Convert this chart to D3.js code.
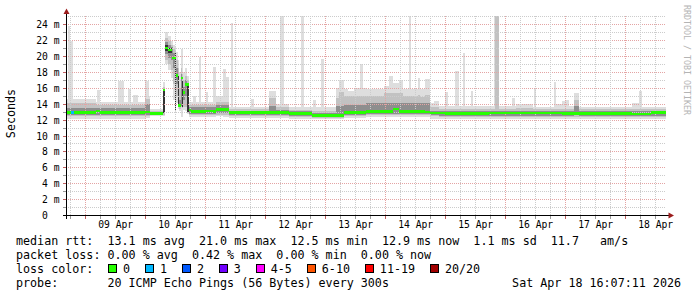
<!DOCTYPE html>
<html><head><meta charset="utf-8">
<script src="https://cdn.jsdelivr.net/npm/d3@7/dist/d3.min.js"></script>
<style>
html,body{margin:0;padding:0;background:#fff;}
svg{display:block;font-family:"DejaVu Sans Mono",monospace;}
</style></head><body>
<svg id="c" width="697" height="297"></svg>
<script>
// ---- DATA (hours since 08 Apr 2026 00:00, values in ms) ----
const yTicks = [0,2,4,6,8,10,12,14,16,18,20,22,24];
const dayLabels = ["09 Apr","10 Apr","11 Apr","12 Apr","13 Apr","14 Apr","15 Apr","16 Apr","17 Apr","18 Apr"];

// median runs [h0, h1, ms]
const medianRuns = [
 [16.1,28.1,12.95],[28.1,29.7,13.15],[29.7,47.7,12.92],[47.7,49.7,13.0],[49.7,55.1,12.85],
 [55.1,55.9,15.8],[55.9,57.1,21.05],[57.1,58.7,20.8],[58.7,60.1,19.8],[60.1,60.9,17.6],
 [60.9,62.1,13.85],[62.1,63.1,17.3],[63.1,63.9,15.5],[63.9,65.3,16.5],[65.3,66.1,13.25],
 [66.1,72.0,13.05],[72.0,74.9,13.15],[74.9,76.1,13.05],[76.1,81.3,13.3],[81.3,105.3,12.95],
 [105.3,114.5,12.8],[114.5,124.1,12.6],[124.1,127.4,12.55],[127.4,136.1,12.95],[136.1,147.0,13.12],
 [147.0,149.4,13.4],[149.4,159.8,13.12],[159.8,161.7,13.0],[161.7,167.7,12.9],[167.7,185.3,12.8],
 [185.3,214.5,12.9],[214.5,230.0,12.85],[230.0,242.5,12.8],[242.5,250.0,12.75],[250.0,256.2,12.92]
];
// runs with packet loss [h0, h1, loss class index]
const lossRuns = [[18.1,19.3,1]];

// smoke bands [h0, h1, low ms, high ms]
const smokeOuter = [
 [16.1,28.1,12.2,14.6],[28.1,37.0,12.2,14.3],[37.0,47.7,12.2,14.3],[47.7,49.7,12.3,15.0],[49.7,55.1,12.5,13.4],
 [55.1,55.9,12.5,16.8],[55.9,57.1,19.0,23.1],[57.1,58.3,18.3,22.6],[58.3,59.1,17.3,21.9],[59.1,59.7,14.5,21.5],
 [59.7,60.1,13.0,21.2],[60.1,60.9,14.2,20.6],[60.9,61.3,13.4,19.5],[61.3,62.1,13.2,18.0],[62.1,62.7,13.4,18.5],
 [62.7,63.1,13.3,18.5],[63.1,63.9,13.3,18.0],[63.9,64.7,13.2,18.5],[64.7,65.3,12.8,17.6],[65.3,76.1,12.4,14.3],
 [76.1,78.9,12.5,15.0],[78.9,81.3,12.4,14.5],[81.3,97.2,12.3,13.7],[97.2,100.1,12.3,15.7],[100.1,105.3,12.3,14.0],
 [105.3,114.5,12.2,13.7],[114.5,124.1,12.1,13.6],[124.1,125.4,12.1,16.1],[125.4,127.4,12.1,17.0],[127.4,128.9,12.3,15.9],
 [128.9,131.3,12.3,15.7],[131.3,133.7,12.3,16.0],[133.7,135.0,12.3,19.0],[135.0,136.1,12.3,16.0],[136.1,143.4,12.4,15.9],
 [143.4,145.4,12.4,16.3],[145.4,147.0,12.4,17.5],[147.0,149.4,12.4,16.7],[149.4,150.8,12.4,17.0],[150.8,156.8,12.4,15.9],
 [156.8,157.8,12.4,17.35],[157.8,159.8,12.4,15.9],[159.8,161.7,12.4,17.2],[161.7,163.4,12.2,14.1],[163.4,165.4,12.2,14.4],
 [165.4,196.1,12.2,13.8],[196.1,202.9,12.2,14.0],[202.9,212.1,12.2,13.7],[212.1,214.9,12.2,14.0],[214.9,215.7,12.2,13.7],
 [215.7,217.3,12.2,14.5],[217.3,219.3,12.2,13.8],[219.3,221.3,12.2,15.4],[221.3,242.5,12.2,13.7],[242.5,245.4,12.2,14.1],
 [245.4,256.2,12.2,13.7]
];
// single-ping spikes [h0, h1, top ms]
const spikes = [
 [16.9,17.7,23.8],[17.7,19.1,22.0],[28.5,29.7,15.75],[37.0,39.2,16.9],[40.8,42.1,15.9],[42.8,44.8,15.2],
 [47.7,49.3,16.9],[62.3,63.1,20.9],[66.9,68.3,15.0],[69.3,70.3,19.9],[72.1,72.9,15.5],[74.9,76.1,18.7],
 [78.9,80.1,18.4],[80.1,81.3,17.4],[82.1,83.0,24.2],[90.1,91.2,14.6],[101.8,103.4,25.4],[110.0,111.2,25.4],
 [114.9,116.1,14.5],[118.1,119.2,19.7],[153.2,154.0,25.4],[167.7,168.8,15.55],[171.8,173.2,18.2],[175.0,175.8,20.4],
 [178.1,179.0,15.7],[187.2,189.4,25.4],[194.7,195.7,14.8],[203.2,204.1,16.1],[211.2,212.1,16.8],[214.5,215.6,14.4],
 [245.4,246.5,15.7]
];
const smokeInner = [
 [16.1,28.1,12.5,14.1],[28.1,47.7,12.5,13.9],[47.7,49.7,12.5,14.6],[49.7,55.1,12.6,13.2],[55.1,55.9,12.7,16.2],
 [55.9,57.1,19.6,22.3],[57.1,58.3,19.0,21.9],[58.3,59.1,18.3,21.5],[59.1,59.7,16.5,21.0],[59.7,60.1,13.2,20.8],
 [60.1,60.9,15.0,19.5],[60.9,61.3,13.6,18.5],[61.3,62.1,13.4,16.0],[62.1,62.7,13.6,18.5],[62.7,63.1,13.5,17.8],
 [63.1,63.9,13.6,17.0],[63.9,64.7,13.6,17.5],[64.7,65.3,12.9,17.0],[65.3,76.1,12.6,13.9],[76.1,81.3,12.7,14.3],
 [81.3,97.2,12.5,13.4],[97.2,100.1,12.5,14.8],[100.1,105.3,12.5,13.6],[105.3,114.5,12.4,13.3],[114.5,124.1,12.3,13.2],
 [124.1,125.4,12.3,14.8],[125.4,127.4,12.3,15.5],[127.4,136.1,12.5,15.0],[136.1,143.4,12.6,15.0],[143.4,150.8,12.6,15.4],
 [150.8,156.8,12.6,15.0],[156.8,157.8,12.6,15.2],[157.8,159.8,12.6,14.9],[159.8,161.7,12.6,15.2],[161.7,165.4,12.5,13.7],
 [165.4,196.1,12.4,13.4],[187.8,189.2,13.4,25.4],[196.1,202.9,12.4,13.5],[202.9,219.3,12.4,13.4],[219.3,221.3,12.4,14.5],
 [221.3,256.2,12.4,13.4]
];
const smokeCore = [
 [16.1,47.7,12.65,13.5],[47.7,49.7,12.65,14.0],[49.7,55.1,12.7,13.05],[55.9,57.1,20.3,21.8],[57.1,58.3,19.8,21.4],
 [58.3,59.1,19.5,21.2],[59.1,59.7,18.5,20.5],[60.1,60.9,16.5,18.5],[61.3,62.1,13.6,14.5],[62.1,62.7,13.8,17.8],
 [63.1,63.9,14.5,16.2],[63.9,64.7,15.0,17.0],[65.3,76.1,12.8,13.6],[76.1,81.3,12.9,13.9],[81.3,97.2,12.7,13.2],
 [97.2,100.1,12.7,13.8],[100.1,105.3,12.7,13.3],[105.3,114.5,12.55,13.1],[114.5,124.1,12.4,12.9],[124.1,127.4,12.4,13.8],
 [127.4,136.1,12.7,13.9],[136.1,161.7,12.8,14.2],[161.7,165.4,12.6,13.2],[165.4,219.3,12.55,13.1],[219.3,221.3,12.6,13.8],
 [221.3,256.2,12.55,13.1]
];
const smokeDark = [
 [55.1,55.9,12.9,15.9],[55.9,57.1,20.7,21.4],[57.1,58.7,20.4,21.1],[59.7,60.1,13.3,20.5],
 [60.9,61.3,13.8,17.6],[62.7,63.1,13.6,17.1],[64.7,65.3,13.0,16.5]
];

const lossLabels = ["0","1","2","3","4-5","6-10","11-19","20/20"];
const lossColors = ["#26ff00","#00b8ff","#0059ff","#7000ff","#ff00ff","#ff5500","#ff0000","#a10000"];
const rttStats = ["13.1","21.0","12.5","12.9","1.1","11.7"];   // avg max min now sd am/s
const lossStats = ["0.00","0.42","0.00","0.00"];             // avg max min now
const probeText = "20 ICMP Echo Pings (56 Bytes) every 300s";
const stampText = "Sat Apr 18 16:07:11 2026";

// ---- DRAW ----
const svg = d3.select("#c");
const base = Date.UTC(2026,3,8,0,0,0);
const hd = h => new Date(base + h*3600e3);
const t0 = new Date(Date.UTC(2026,3,8,16,7,11)), t1 = new Date(Date.UTC(2026,3,18,16,7,11));
const x = d3.scaleUtc().domain([t0,t1]).range([66,666]);
const y = d3.scaleLinear().domain([0,25.16]).range([215.5,15.5]);
const yc = v => y(Math.min(v, 25.16));

const plot = svg.append("g");
plot.append("clipPath").attr("id","pc").append("rect").attr("x",66).attr("y",15.5).attr("width",600).attr("height",200);
const sg = plot.append("g").attr("clip-path","url(#pc)").attr("shape-rendering","crispEdges");

function band(data, color){
  sg.append("g").selectAll("rect").data(data).join("rect")
    .attr("x", d=>x(hd(d[0]))).attr("width", d=>x(hd(d[1]))-x(hd(d[0])))
    .attr("y", d=>yc(d[3])).attr("height", d=>yc(d[2])-yc(d[3])).attr("fill", color);
}
band(smokeOuter, "#dedede");
band(spikes.map(d=>[d[0],d[1],12.4,d[2]]), "#dedede");
band(smokeInner, "#c2c2c2");
band(smokeCore, "#8e8e8e");
band(smokeDark, "#333333");

// grid
const gg = svg.append("g").attr("stroke-dasharray","1,1").attr("stroke-width",1);
for (let v=1; v<=25; v++){
  const yy = Math.round(y(v)-0.5)+0.5;
  gg.append("line").attr("x1",66).attr("x2",666).attr("y1",yy).attr("y2",yy)
    .attr("stroke", v%2===0 ? "#e4a4a4" : "#cccccc");
}
const hours6 = d3.utcHour.every(6).range(t0, t1);
hours6.forEach(t=>{
  const xx = Math.round(x(t)-0.5)+0.5;
  const major = t.getUTCHours()===0;
  gg.append("line").attr("x1",xx).attr("x2",xx).attr("y1",16).attr("y2",215)
    .attr("stroke", major ? "#e4a4a4" : "#cccccc");
});

// median
const mg = svg.append("g").attr("shape-rendering","crispEdges");
mg.selectAll("rect.m").data(medianRuns).join("rect").attr("class","m")
  .attr("x", d=>x(hd(d[0]))).attr("width", d=>x(hd(d[1]))-x(hd(d[0])))
  .attr("y", d=>y(d[2])-1.3).attr("height", 2.6).attr("fill", lossColors[0]);
mg.selectAll("rect.l").data(lossRuns).join("rect").attr("class","l")
  .attr("x", d=>x(hd(d[0]))).attr("width", d=>x(hd(d[1]))-x(hd(d[0])))
  .attr("y", d=>{const m = medianRuns.find(r=>r[0]<=d[0] && r[1]>d[0]); return y(m[2])-1.3;})
  .attr("height", 2.6).attr("fill", d=>lossColors[d[2]]);

// axes + ticks
const ag = svg.append("g").attr("shape-rendering","crispEdges");
yTicks.concat(d3.range(1,25,2)).forEach(v=>{
  const yy = Math.round(y(v)-0.5)+0.5;
  ag.append("line").attr("x1",63).attr("x2",66).attr("y1",yy).attr("y2",yy)
    .attr("stroke", v%2===0 ? "#c06060" : "#999");
});
hours6.forEach(t=>{
  const xx = Math.round(x(t)-0.5)+0.5;
  ag.append("line").attr("x1",xx).attr("x2",xx).attr("y1",216).attr("y2",218.5)
    .attr("stroke", t.getUTCHours()===0 ? "#c06060" : "#999");
});
ag.append("line").attr("x1",66.5).attr("x2",66.5).attr("y1",219).attr("y2",12).attr("stroke","#000");
ag.append("line").attr("x1",63).attr("x2",669).attr("y1",215.5).attr("y2",215.5).attr("stroke","#000");
svg.append("path").attr("d","M66.5,8.5 L63.5,14 L69.5,14 Z").attr("fill","#9b1c1c");
svg.append("path").attr("d","M674,215.5 L668.5,212.5 L668.5,218.5 Z").attr("fill","#9b1c1c");

// tick labels
const axFont = "9.7px";
svg.append("g").selectAll("text").data(yTicks).join("text")
  .attr("x", d=> d===0 ? 47.8 : 59.6).attr("y", d=>y(d)).attr("dy","0.36em")
  .attr("text-anchor","end").attr("font-size",axFont).attr("fill","#000")
  .text(d=> d===0 ? "0" : d+" m");
const fmt = d3.utcFormat("%d %b");
const noons = d3.utcDay.range(hd(24), hd(241)).map(t=>new Date(+t + 12*3600e3));
svg.append("g").selectAll("text").data(noons).join("text")
  .attr("x", d=>x(d)).attr("y", 227.6).attr("text-anchor","middle")
  .attr("font-size",axFont).attr("fill","#000")
  .text((d,i)=>dayLabels[i] || fmt(d));

// titles
svg.append("text").attr("transform","translate(15,113.5) rotate(-90)").attr("text-anchor","middle")
  .attr("font-size","11.7px").attr("fill","#000").text("Seconds");
svg.append("text").attr("transform","translate(684,5) rotate(90)").attr("text-anchor","start")
  .attr("font-size","8.3px").attr("fill","#b4b4b4").text("RRDTOOL / TOBI OETIKER");

// legend
const lf = "11.7px";
const lines = [
  `median rtt:  ${rttStats[0]} ms avg  ${rttStats[1]} ms max  ${rttStats[2]} ms min  ${rttStats[3]} ms now  ${rttStats[4]} ms sd  ${rttStats[5]}   am/s`,
  `packet loss: ${lossStats[0]} % avg  ${lossStats[1]} % max  ${lossStats[2]} % min  ${lossStats[3]} % now`,
  `loss color:`,
  `probe:       ${probeText}`
];
const baselines = [245, 259, 273, 287];
svg.append("g").selectAll("text").data(lines).join("text")
  .attr("x",16).attr("y",(d,i)=>baselines[i]).attr("font-size",lf).attr("fill","#000")
  .style("white-space","pre").text(d=>d);
svg.append("text").attr("x",681).attr("y",287).attr("text-anchor","end").attr("font-size",lf)
  .attr("fill","#000").text(stampText);
let cx = 108.3;
lossLabels.forEach((lab,i)=>{
  svg.append("rect").attr("x",cx+0.5).attr("y",264.5).attr("width",7.5).attr("height",7.5)
    .attr("fill",lossColors[i]).attr("stroke","#000").attr("stroke-width",1).attr("shape-rendering","crispEdges");
  const t = svg.append("text").attr("x",cx+14.7).attr("y",273).attr("font-size",lf).attr("fill","#000").text(lab);
  cx = cx + 14.7 + t.node().getComputedTextLength() + 15.2;
});
</script>
</body></html>
